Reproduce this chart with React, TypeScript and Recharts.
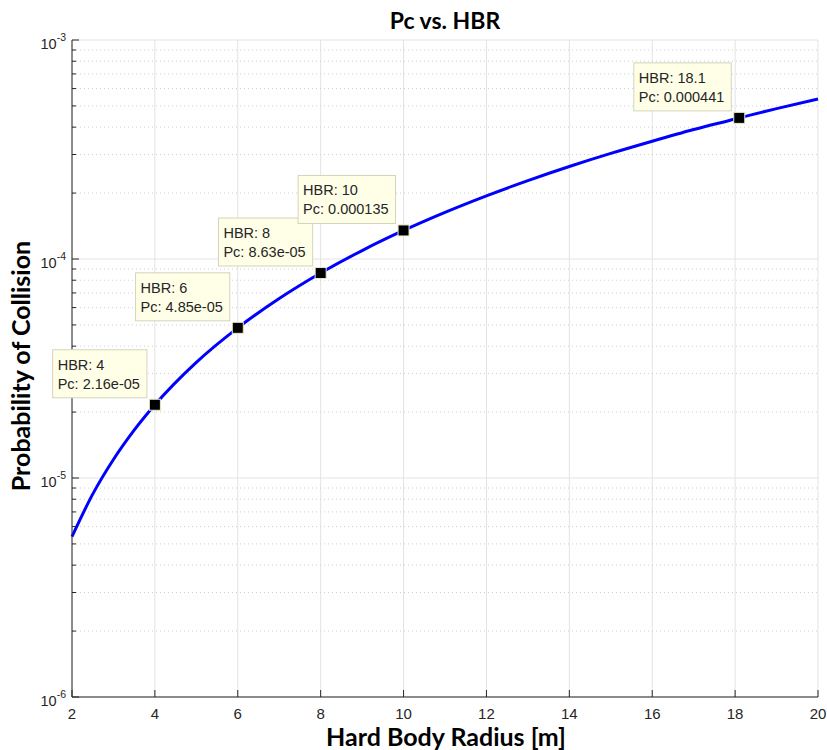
import React from "react";
import {
  ComposedChart,
  Line,
  Scatter,
  XAxis,
  YAxis,
  CartesianGrid,
  ReferenceLine,
} from "recharts";

// curve
const hbrValues = [2, 2.5, 3, 3.5, 4, 5, 6, 7, 8, 9, 10, 11, 12, 13, 14, 15, 16, 17, 18, 18.1, 19, 20];
const pcValues = [
  5.4e-6, 8.44e-6, 1.215e-5, 1.654e-5, 2.16e-5, 3.375e-5, 4.85e-5, 6.6e-5, 8.63e-5,
  1.093e-4, 1.35e-4, 1.633e-4, 1.943e-4, 2.28e-4, 2.645e-4, 3.035e-4, 3.45e-4, 3.9e-4,
  4.36e-4, 4.41e-4, 4.86e-4, 5.38e-4,
];

// data tips
const tipHbr = [4, 6, 8, 10, 18.1];
const tipPc = [2.16e-5, 4.85e-5, 8.63e-5, 1.35e-4, 4.41e-4];
const tipHbrText = ["4", "6", "8", "10", "18.1"];
const tipPcText = ["2.16e-05", "4.85e-05", "8.63e-05", "0.000135", "0.000441"];

const xTicks = [2, 4, 6, 8, 10, 12, 14, 16, 18, 20];
const decades = [1e-6, 1e-5, 1e-4, 1e-3];
const minorMult = [2, 3, 4, 5, 6, 7, 8, 9];

const minorValues: number[] = [];
decades.slice(0, 3).forEach((d) => minorMult.forEach((m) => minorValues.push(d * m)));
const yTicks = [...decades, ...minorValues].sort((a, b) => a - b);

const curveData = hbrValues.map((h, i) => ({ hbr: h, pc: pcValues[i] }));
const tipData = tipHbr.map((h, i) => ({
  hbr: h,
  pc: tipPc[i],
  line1: "HBR: " + tipHbrText[i],
  line2: "Pc: " + tipPcText[i],
}));

const AXIS = "#262626";
const TICK_FONT = "'Liberation Sans', Arial, sans-serif";
const LABEL_FONT = "Lato, 'Open Sans', sans-serif";

function isDecade(v: number) {
  const l = Math.log10(v);
  return Math.abs(l - Math.round(l)) < 1e-6;
}

function textWidth(s: string, size: number) {
  const w: Record<string, number> = {
    ".": 0.278, ":": 0.278, " ": 0.278, "-": 0.333, P: 0.667, c: 0.5, e: 0.556,
    H: 0.722, B: 0.667, R: 0.722,
  };
  let t = 0;
  for (const ch of s) t += w[ch] ?? 0.556;
  return t * size;
}

function LeftTick(props: any) {
  const { x, y, payload } = props;
  const major = isDecade(payload.value);
  const exp = Math.round(Math.log10(payload.value));
  return (
    <g>
      <line x1={x} y1={y} x2={x + (major ? 7 : 4)} y2={y} stroke={AXIS} strokeWidth={1} />
      {major && (
        <text x={x - 6} y={y + 9} textAnchor="end" fill={AXIS} fontSize={14.5} fontFamily={TICK_FONT}>
          <tspan>10</tspan>
          <tspan dy={-8} fontSize={10.5}>
            {String(exp)}
          </tspan>
        </text>
      )}
    </g>
  );
}

function RightTick(props: any) {
  const { x, y, payload } = props;
  const major = isDecade(payload.value);
  return <line x1={x} y1={y} x2={x - (major ? 7 : 4)} y2={y} stroke={AXIS} strokeWidth={1} />;
}

function BottomTick(props: any) {
  const { x, y, payload } = props;
  return (
    <g>
      <line x1={x} y1={y} x2={x} y2={y - 7} stroke={AXIS} strokeWidth={1} />
      <text x={x} y={y + 22} textAnchor="middle" fill={AXIS} fontSize={15} fontFamily={TICK_FONT}>
        {payload.value}
      </text>
    </g>
  );
}

function TopTick(props: any) {
  const { x, y } = props;
  return <line x1={x} y1={y} x2={x} y2={y + 7} stroke={AXIS} strokeWidth={1} />;
}

function TipShape(props: any) {
  const { cx, cy, payload } = props;
  const fs = 14.5;
  const w = Math.max(textWidth(payload.line1, fs), textWidth(payload.line2, fs)) + 12;
  const h = 48;
  const right = cx - 8;
  const bottom = cy - 7;
  return (
    <g>
      <rect x={right - w} y={bottom - h} width={w} height={h} fill="#ffffe8" stroke="#d4d4bc" strokeWidth={1} />
      <text x={right - w + 5} y={bottom - h + 20} fill={AXIS} fontSize={fs} fontFamily={TICK_FONT}>
        {payload.line1}
      </text>
      <text x={right - w + 5} y={bottom - h + 39} fill={AXIS} fontSize={fs} fontFamily={TICK_FONT}>
        {payload.line2}
      </text>
      <rect x={cx - 5.5} y={cy - 5.5} width={11} height={11} fill="#000000" stroke="#e8e8c8" strokeWidth={1} />
    </g>
  );
}

export default function App() {
  return (
    <div style={{ position: "absolute", left: 0, top: 0, width: 827, height: 750, background: "#fff" }}>
      <ComposedChart
        width={827}
        height={750}
        data={curveData}
        margin={{ top: 40, right: 9, bottom: 0, left: 0 }}
      >
        <CartesianGrid horizontal={false} stroke="#e3e3e3" />
        {minorValues.map((v) => (
          <ReferenceLine key={"m" + v} y={v} stroke="#cfcfcf" strokeDasharray="1 3" />
        ))}
        {decades.map((v) => (
          <ReferenceLine key={"d" + v} y={v} stroke="#e3e3e3" />
        ))}
        <XAxis
          dataKey="hbr"
          type="number"
          domain={[2, 20]}
          ticks={xTicks}
          height={53}
          tickSize={0}
          tickMargin={0}
          tickLine={false}
          axisLine={{ stroke: AXIS }}
          tick={BottomTick}
          interval={0}
        />
        <XAxis
          xAxisId="top"
          orientation="top"
          type="number"
          domain={[2, 20]}
          ticks={xTicks}
          allowDataOverflow
          height={0}
          tickSize={0}
          tickMargin={0}
          tickLine={false}
          axisLine={{ stroke: AXIS }}
          tick={TopTick}
          interval={0}
        />
        <YAxis
          scale="log"
          type="number"
          domain={[1e-6, 1e-3]}
          ticks={yTicks}
          width={72}
          tickSize={0}
          tickMargin={0}
          tickLine={false}
          axisLine={{ stroke: AXIS }}
          tick={LeftTick}
          interval={0}
        />
        <YAxis
          yAxisId="right"
          orientation="right"
          scale="log"
          type="number"
          domain={[1e-6, 1e-3]}
          ticks={yTicks}
          allowDataOverflow
          width={0}
          tickSize={0}
          tickMargin={0}
          tickLine={false}
          axisLine={{ stroke: AXIS }}
          tick={RightTick}
          interval={0}
        />
        <Line
          type="monotone"
          dataKey="pc"
          stroke="#0000ff"
          strokeWidth={3}
          dot={false}
          isAnimationActive={false}
        />
        <Scatter
          data={tipData}
          dataKey="pc"
          shape={TipShape}
          isAnimationActive={false}
          zIndex={2000}
        />
      </ComposedChart>
      <svg
        width={827}
        height={750}
        style={{ position: "absolute", left: 0, top: 0, pointerEvents: "none" }}
      >
        <text x={445} y={29} textAnchor="middle" fontFamily={LABEL_FONT} fontWeight={700} fontSize={23} fill="#000">
          Pc vs. HBR
        </text>
        <text x={446} y={746} textAnchor="middle" fontFamily={LABEL_FONT} fontWeight={700} fontSize={25} fill="#000">
          Hard Body Radius [m]
        </text>
        <text
          x={0}
          y={0}
          transform="translate(30 366) rotate(-90)"
          textAnchor="middle"
          fontFamily={LABEL_FONT}
          fontWeight={700}
          fontSize={25}
          fill="#000"
        >
          Probability of Collision
        </text>
      </svg>
    </div>
  );
}
